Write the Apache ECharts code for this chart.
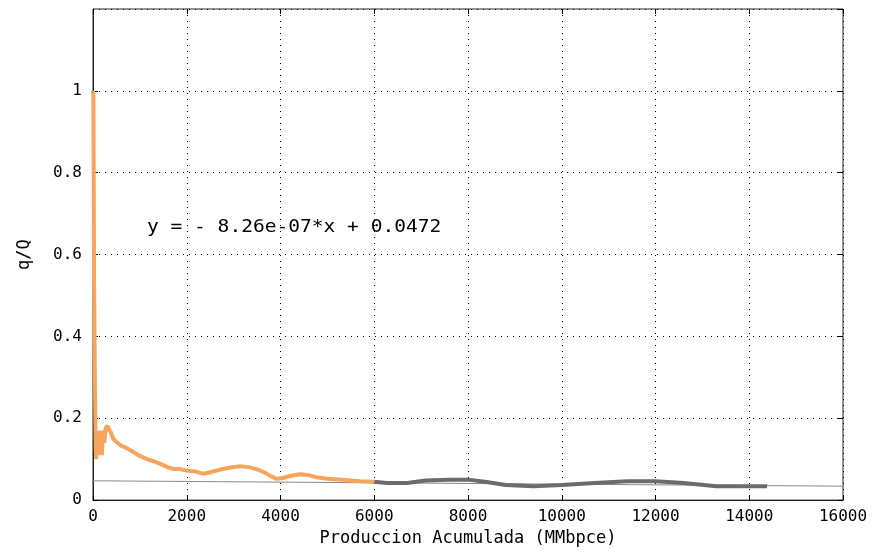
<!DOCTYPE html>
<html>
<head>
<meta charset="utf-8">
<script src="https://cdn.jsdelivr.net/npm/echarts@6/dist/echarts.min.js"></script>
<style>
  html, body { margin: 0; padding: 0; background: #fff; }
  #main { width: 874px; height: 552px; }
</style>
</head>
<body>
<div id="main"></div>
<script>
// early production (orange), [cumulative, q/Q]
var earlyData = [
  [0, 1.0], [8, 0.99], [15, 0.8], [22, 0.55], [30, 0.45], [40, 0.3], [50, 0.2],
  [60, 0.12], [70, 0.1], [90, 0.16], [110, 0.11], [130, 0.17], [150, 0.12],
  [170, 0.16], [190, 0.11], [210, 0.17], [240, 0.14], [270, 0.175], [300, 0.182],
  [340, 0.178], [380, 0.165], [430, 0.15], [500, 0.142], [600, 0.133],
  [720, 0.127], [850, 0.118], [1000, 0.108], [1150, 0.1], [1290, 0.095],
  [1450, 0.088], [1600, 0.08], [1720, 0.076], [1850, 0.076], [2000, 0.072],
  [2180, 0.07], [2350, 0.064], [2500, 0.068], [2700, 0.074], [2900, 0.079],
  [3140, 0.083], [3350, 0.08], [3500, 0.075], [3650, 0.068], [3800, 0.058],
  [3920, 0.052], [4050, 0.054], [4250, 0.06], [4420, 0.063], [4600, 0.061],
  [4800, 0.055], [5000, 0.052], [5300, 0.05], [5700, 0.046], [6000, 0.045]
];
// later production (gray)
var lateData = [
  [6000, 0.045], [6270, 0.042], [6700, 0.042], [7100, 0.048], [7600, 0.05],
  [8000, 0.05], [8400, 0.044], [8800, 0.037], [9400, 0.034], [10000, 0.037],
  [10700, 0.042], [11400, 0.046], [12000, 0.046], [12600, 0.042],
  [13300, 0.034], [13900, 0.034], [14380, 0.034]
];
// fitted line endpoints
var fitData = [[0, 0.0472], [16000, 0.034]];
var fitLabel = 'y = - 8.26e-07*x + 0.0472';
var xName = 'Produccion Acumulada (MMbpce)';
var yName = 'q/Q';

var font = 'DejaVu Sans Mono';
var chart = echarts.init(document.getElementById('main'));
var gridDots = { show: true, lineStyle: { color: '#000', width: 1, type: [1, 5] } };
var ticks = { inside: true, length: 5, lineStyle: { color: '#000' } };
var noLine = { show: false, onZero: false };

chart.setOption({
  backgroundColor: '#fff',
  animation: false,
  grid: { left: 93, right: 31, top: 9, bottom: 48, show: true, borderColor: '#222', borderWidth: 1 },
  xAxis: [{
    type: 'value', min: 0, max: 16000, interval: 2000,
    name: xName, nameLocation: 'middle', nameGap: 29,
    nameTextStyle: { fontFamily: font, fontSize: 17, color: '#000' },
    axisLine: { show: true, lineStyle: { color: '#222' } },
    axisTick: ticks,
    axisLabel: { fontFamily: font, fontSize: 16, color: '#000', margin: 9,
      formatter: function (v) { return String(v); } },
    splitLine: gridDots
  }, {
    type: 'value', min: 0, max: 16000, interval: 2000, position: 'top',
    axisLine: noLine, axisTick: ticks,
    axisLabel: { show: false }, splitLine: { show: false }
  }],
  yAxis: [{
    type: 'value', min: 0, max: 1.2, interval: 0.2,
    name: yName, nameLocation: 'middle', nameGap: 60, nameRotate: 90,
    nameTextStyle: { fontFamily: font, fontSize: 17, color: '#000' },
    axisLine: { show: true, lineStyle: { color: '#222' } },
    axisTick: ticks,
    axisLabel: { fontFamily: font, fontSize: 16, color: '#000', margin: 11, showMaxLabel: false,
      formatter: function (v) { return String(+v.toFixed(1)); } },
    splitLine: gridDots
  }, {
    type: 'value', min: 0, max: 1.2, interval: 0.2, position: 'right',
    axisLine: noLine, axisTick: ticks,
    axisLabel: { show: false }, splitLine: { show: false }
  }],
  graphic: [{
    type: 'text', left: 147, top: 219,
    style: { text: fitLabel, font: '17px "DejaVu Sans Mono"', fill: '#000' },
    scaleX: 1.15
  }],
  series: [{
    type: 'line', data: fitData, symbol: 'none',
    lineStyle: { color: '#8a8a8a', width: 1 }
  }, {
    type: 'line', data: earlyData, symbol: 'none',
    lineStyle: { color: '#f6a55c', width: 4 }
  }, {
    type: 'line', data: lateData, symbol: 'none',
    lineStyle: { color: '#6b6b6b', width: 4 }
  }]
});
</script>
</body>
</html>
